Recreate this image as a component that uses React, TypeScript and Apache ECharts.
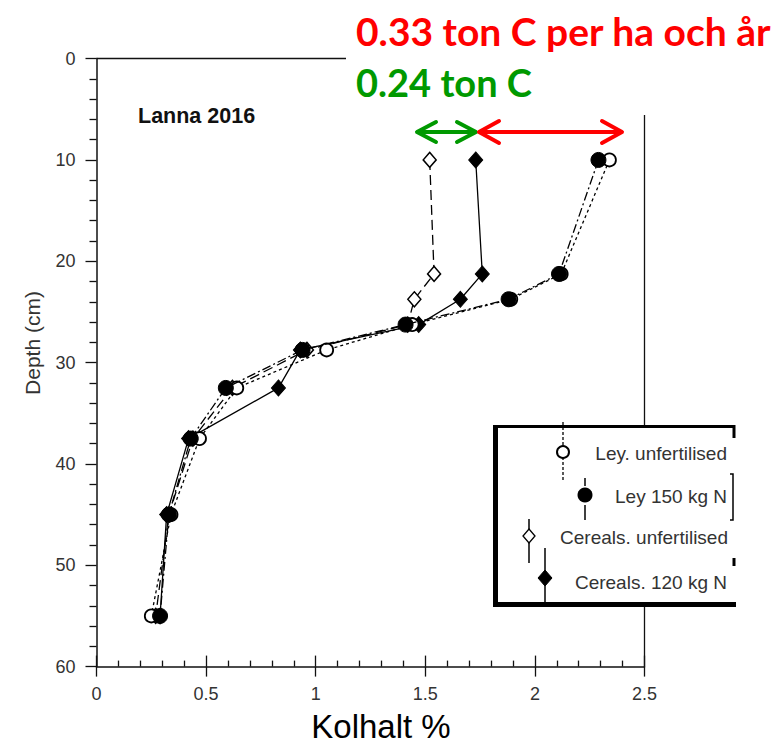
import React, { useEffect, useRef } from "react";
import * as echarts from "echarts";

// Depth (cm) of each sampled layer midpoint
const depths = [10, 21.25, 23.75, 26.25, 28.75, 32.5, 37.5, 45, 55];
// Carbon content (%) per treatment
const leyUnfertilised = [2.34, 2.12, 1.89, 1.44, 1.05, 0.64, 0.47, 0.34, 0.25];
const ley150 = [2.29, 2.11, 1.88, 1.41, 0.94, 0.59, 0.43, 0.33, 0.29];
const cerealsUnfertilised = [1.52, 1.54, 1.45, 1.42, 0.96, 0.62, 0.44, 0.33, 0.27];
const cereals120 = [1.73, 1.76, 1.66, 1.47, 0.93, 0.83, 0.42, 0.32, 0.29];

const legendLabels = ["Ley. unfertilised", "Ley 150 kg N", "Cereals. unfertilised", "Cereals. 120 kg N"];
const xTicks = [0, 0.5, 1, 1.5, 2, 2.5];
const yTicks = [0, 10, 20, 30, 40, 50, 60];

const toPairs = (xs: number[]) => xs.map((x, i) => [x, depths[i]]);

export default function App() {
  const ref = useRef<HTMLDivElement>(null);
  useEffect(() => {
    if (!ref.current) return;
    const chart = echarts.init(ref.current, undefined, { renderer: "svg" });
    const axisColor = "#111";
    const labelFont = { fontFamily: "Liberation Sans, Arial, sans-serif", fontSize: 18, color: "#333" };
    const legendFont = "19px 'Liberation Sans', Arial, sans-serif";
    const black = "#000";
    const red = "#ff0000";
    const green = "#009900";
    const gridRect = { left: 96.5, top: 58.6, width: 548, height: 608, containLabel: false };

    const option: any = {
      animation: false,
      backgroundColor: "#fff",
      grid: [gridRect, { ...gridRect }],
      xAxis: [
        {
          type: "value",
          gridIndex: 0,
          min: xTicks[0],
          max: xTicks[xTicks.length - 1],
          interval: 0.5,
          position: "bottom",
          splitLine: { show: false },
          axisLine: { show: true, onZero: false, lineStyle: { color: axisColor, width: 1.5 } },
          axisTick: { show: true, inside: true, length: 11, lineStyle: { color: axisColor, width: 1.3 } },
          minorTick: { show: true, splitNumber: 5, length: 6, lineStyle: { color: axisColor, width: 1.3 } },
          axisLabel: { ...labelFont, margin: 18, formatter: (v: number) => String(v) },
        },
        {
          type: "value",
          gridIndex: 1,
          min: xTicks[0],
          max: xTicks[xTicks.length - 1],
          interval: 0.5,
          position: "bottom",
          splitLine: { show: false },
          axisLine: { show: false, onZero: false },
          axisTick: { show: true, inside: false, length: 10, lineStyle: { color: axisColor, width: 1.3 } },
          minorTick: { show: false },
          axisLabel: { show: false },
        },
      ],
      yAxis: [
        {
          type: "value",
          gridIndex: 0,
          inverse: true,
          min: yTicks[0],
          max: yTicks[yTicks.length - 1],
          interval: 10,
          splitLine: { show: false },
          axisLine: { show: true, onZero: false, lineStyle: { color: axisColor, width: 1.5 } },
          axisTick: { show: true, inside: false, length: 11, lineStyle: { color: axisColor, width: 1.3 } },
          minorTick: { show: true, splitNumber: 5, length: 7, lineStyle: { color: axisColor, width: 1.3 } },
          axisLabel: { ...labelFont, margin: 21, padding: [0, 0, 12, 0] },
        },
        {
          type: "value",
          gridIndex: 1,
          inverse: true,
          min: yTicks[0],
          max: yTicks[yTicks.length - 1],
          show: false,
          axisLine: { onZero: false },
        },
      ],
      series: [
        {
          name: legendLabels[2],
          type: "line",
          data: toPairs(cerealsUnfertilised),
          symbol: "diamond",
          symbolSize: [13, 15],
          itemStyle: { color: "#fff", borderColor: black, borderWidth: 1.5 },
          lineStyle: { color: black, width: 1.3, type: [10, 5] },
          z: 2,
        },
        {
          name: legendLabels[3],
          type: "line",
          data: toPairs(cereals120),
          symbol: "diamond",
          symbolSize: [14, 16],
          itemStyle: { color: black, borderColor: black, borderWidth: 1 },
          lineStyle: { color: black, width: 1.3, type: "solid" },
          z: 3,
        },
        {
          name: legendLabels[0],
          type: "line",
          data: toPairs(leyUnfertilised),
          symbol: "circle",
          symbolSize: 13,
          itemStyle: { color: "#fff", borderColor: black, borderWidth: 1.8 },
          lineStyle: { color: black, width: 1.3, type: [3, 3] },
          z: 4,
        },
        {
          name: legendLabels[1],
          type: "line",
          data: toPairs(ley150),
          symbol: "circle",
          symbolSize: 15,
          itemStyle: { color: black, borderColor: black, borderWidth: 1 },
          lineStyle: { color: black, width: 1.3, type: [9, 3, 2, 3] },
          z: 5,
        },
      ],
      graphic: [
        // frame: top line and right line
        { type: "line", z: 10, shape: { x1: 96.5, y1: 58.6, x2: 346, y2: 58.6 }, style: { stroke: axisColor, lineWidth: 1.5 } },
        { type: "line", z: 10, shape: { x1: 644.5, y1: 115, x2: 644.5, y2: 666.7 }, style: { stroke: axisColor, lineWidth: 1.3 } },
        // inner title
        {
          type: "text", z: 20, x: 138, y: 116,
          style: { text: "Lanna 2016", font: "bold 21.5px 'Liberation Sans', Arial, sans-serif", fill: "#111", textVerticalAlign: "middle" },
        },
        // axis titles
        {
          type: "text", z: 20, x: 32, y: 343, rotation: Math.PI / 2,
          style: { text: "Depth (cm)", font: "21px 'Liberation Sans', Arial, sans-serif", fill: "#333", textAlign: "center", textVerticalAlign: "middle" },
        },
        {
          type: "text", z: 20, x: 381, y: 726,
          style: { text: "Kolhalt %", font: "33px 'Liberation Sans', Arial, sans-serif", fill: "#000", textAlign: "center", textVerticalAlign: "middle" },
        },
        // annotation texts
        {
          type: "text", z: 20, x: 356, y: 31,
          style: { text: "0.33 ton C per ha och år", font: "bold 39px Lato, 'Open Sans', sans-serif", fill: red, textVerticalAlign: "middle" },
        },
        {
          type: "text", z: 20, x: 356, y: 82,
          style: { text: "0.24 ton C", font: "bold 38px Lato, 'Open Sans', sans-serif", fill: green, textVerticalAlign: "middle" },
        },
        // green double arrow
        { type: "line", z: 20, shape: { x1: 418, y1: 132, x2: 475, y2: 132 }, style: { stroke: green, lineWidth: 4 } },
        { type: "polyline", z: 20, shape: { points: [[436, 122], [417, 132], [436, 142]] }, style: { stroke: green, lineWidth: 4, lineCap: "round", lineJoin: "round", fill: "none" } },
        { type: "polyline", z: 20, shape: { points: [[457, 122], [476, 132], [457, 142]] }, style: { stroke: green, lineWidth: 4, lineCap: "round", lineJoin: "round", fill: "none" } },
        // red double arrow
        { type: "line", z: 20, shape: { x1: 480, y1: 132, x2: 621, y2: 132 }, style: { stroke: red, lineWidth: 4 } },
        { type: "polyline", z: 20, shape: { points: [[499, 121], [479, 132], [499, 143]] }, style: { stroke: red, lineWidth: 4, lineCap: "round", lineJoin: "round", fill: "none" } },
        { type: "polyline", z: 20, shape: { points: [[602, 121], [622, 132], [602, 143]] }, style: { stroke: red, lineWidth: 4, lineCap: "round", lineJoin: "round", fill: "none" } },
        // legend box
        { type: "rect", z: 30, shape: { x: 495, y: 426, width: 239, height: 178 }, style: { fill: "#fff", stroke: "none" } },
        { type: "line", z: 31, shape: { x1: 493, y1: 426.5, x2: 735, y2: 426.5 }, style: { stroke: black, lineWidth: 3 } },
        { type: "line", z: 31, shape: { x1: 495.5, y1: 425, x2: 495.5, y2: 607 }, style: { stroke: black, lineWidth: 5 } },
        { type: "line", z: 31, shape: { x1: 493, y1: 604.5, x2: 736, y2: 604.5 }, style: { stroke: black, lineWidth: 5 } },
        { type: "line", z: 31, shape: { x1: 734, y1: 425, x2: 734, y2: 438 }, style: { stroke: black, lineWidth: 3 } },
        { type: "polyline", z: 31, shape: { points: [[730, 474], [733, 474], [733, 520], [730, 520]] }, style: { stroke: black, lineWidth: 1.5, fill: "none" } },
        { type: "line", z: 31, shape: { x1: 734, y1: 558, x2: 734, y2: 566 }, style: { stroke: black, lineWidth: 3 } },
        // legend entry 1: Ley unfertilised
        { type: "line", z: 32, shape: { x1: 563, y1: 422, x2: 563, y2: 480 }, style: { stroke: black, lineWidth: 1.3, lineDash: [3, 2] } },
        { type: "circle", z: 33, shape: { cx: 563, cy: 452, r: 6 }, style: { fill: "#fff", stroke: black, lineWidth: 2 } },
        { type: "text", z: 33, x: 727, y: 453, style: { text: legendLabels[0], font: legendFont, fill: "#333", textAlign: "right", textVerticalAlign: "middle" } },
        // legend entry 2: Ley 150 kg N
        { type: "line", z: 32, shape: { x1: 585, y1: 478, x2: 585, y2: 520 }, style: { stroke: black, lineWidth: 1.5 } },
        { type: "rect", z: 32, shape: { x: 580, y: 486, width: 10, height: 19 }, style: { fill: "#fff" } },
        { type: "circle", z: 33, shape: { cx: 585, cy: 495, r: 7.5 }, style: { fill: black } },
        { type: "text", z: 33, x: 727, y: 496, style: { text: legendLabels[1], font: legendFont, fill: "#333", textAlign: "right", textVerticalAlign: "middle" } },
        // legend entry 3: Cereals unfertilised
        { type: "line", z: 32, shape: { x1: 529, y1: 519, x2: 529, y2: 563 }, style: { stroke: black, lineWidth: 1.5 } },
        { type: "polygon", z: 33, shape: { points: [[529, 529], [535, 536], [529, 543], [523, 536]] }, style: { fill: "#fff", stroke: black, lineWidth: 1.3 } },
        { type: "text", z: 33, x: 728, y: 537, style: { text: legendLabels[2], font: legendFont, fill: "#333", textAlign: "right", textVerticalAlign: "middle" } },
        // legend entry 4: Cereals 120 kg N
        { type: "line", z: 32, shape: { x1: 545, y1: 548, x2: 545, y2: 603 }, style: { stroke: black, lineWidth: 1.5 } },
        { type: "polygon", z: 33, shape: { points: [[545, 570], [552, 578], [545, 586], [538, 578]] }, style: { fill: black, stroke: black, lineWidth: 1 } },
        { type: "text", z: 33, x: 727, y: 582, style: { text: legendLabels[3], font: legendFont, fill: "#333", textAlign: "right", textVerticalAlign: "middle" } },
      ],
    };
    chart.setOption(option);
    return () => chart.dispose();
  }, []);

  return (
    <div
      ref={ref}
      style={{ position: "fixed", left: 0, top: 0, width: 776, height: 745, background: "#fff" }}
    />
  );
}
